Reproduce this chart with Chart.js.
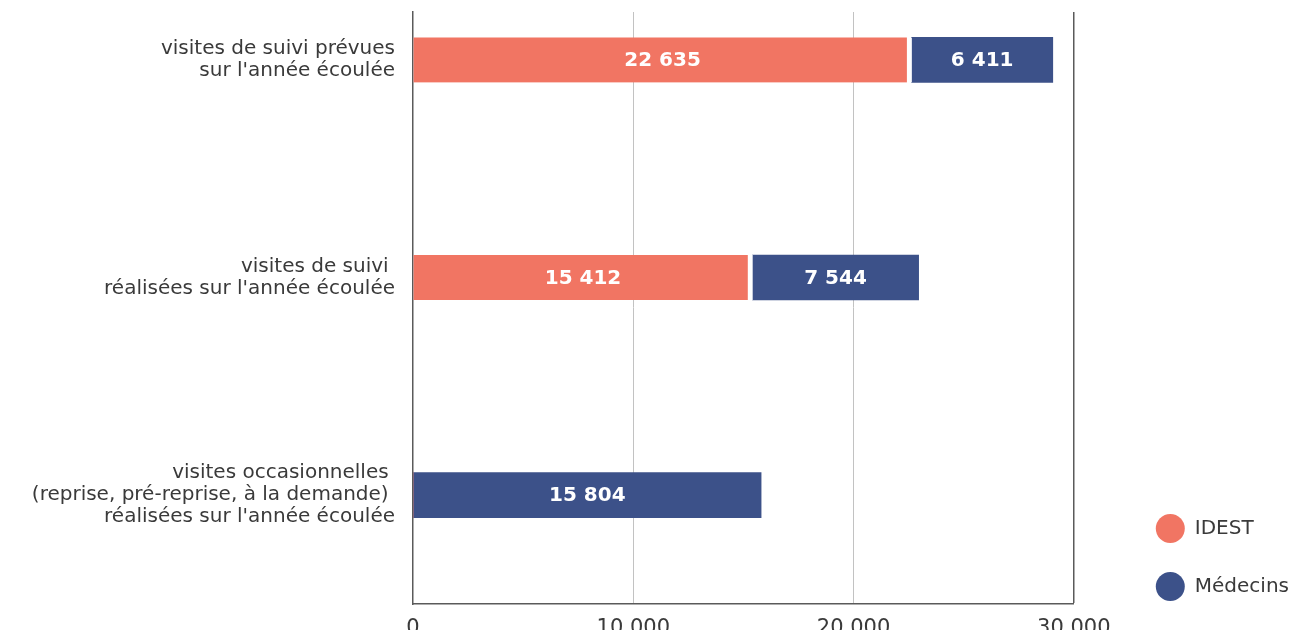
<!DOCTYPE html>
<html lang="fr">
<head>
<meta charset="utf-8">
<title>Visites de suivi</title>
<script src="https://cdn.jsdelivr.net/npm/chart.js@4"></script>
<style>
  html, body { margin: 0; padding: 0; background: #fff; }
  #wrap { position: relative; width: 1306px; height: 639px; }
</style>
</head>
<body>
<div id="wrap"><canvas id="Chart"></canvas></div>
<script>
// categories (one array per line of the axis label)
const categories = [
    ["visites de suivi prévues", "sur l'année écoulée"],
    ["visites de suivi ", "réalisées sur l'année écoulée"],
    ["visites occasionnelles ", "(reprise, pré-reprise, à la demande) ", "réalisées sur l'année écoulée"]
];
const idest = [22635, 15412, 0];
const medecins = [6411, 7544, 15804];
const xTicks = [0, 10000, 20000, 30000];

const FONT = '"DejaVu Sans", sans-serif';
const TEXT = '#3a3a3a';
const AXIS = '#5a5a5a';

// 10000 -> "10 000"
function fmt(v) {
    return String(v).replace(/\B(?=(\d{3})+(?!\d))/g, ' ');
}

// white numbers inside each bar segment
const barLabels = {
    id: 'barLabels',
    afterDatasetsDraw(chart) {
        const ctx = chart.ctx;
        ctx.save();
        ctx.font = 'bold 20px ' + FONT;
        ctx.fillStyle = '#fff';
        ctx.textAlign = 'center';
        ctx.textBaseline = 'middle';
        chart.data.datasets.forEach((ds, i) => {
            chart.getDatasetMeta(i).data.forEach((bar, j) => {
                const v = ds.data[j].x;
                if (!v) return;
                const p = bar.getCenterPoint();
                ctx.fillText(fmt(v), p.x, p.y + 1);
            });
        });
        ctx.restore();
    }
};

var ctx = document.getElementById("Chart").getContext('2d');
var myChart = new Chart(ctx, {
    type: 'bar',
    data: {
        datasets: [{
            label: 'IDEST',
            data: categories.map((c, i) => ({x: idest[i], y: i})),
            backgroundColor: '#f17563',
            borderColor: '#ffffff',
            borderWidth: {top: 0, right: 5, bottom: 0, left: 0},
            borderSkipped: false,
            barThickness: 45,
            xAxisID: 'x',
            yAxisID: 'y'
        }, {
            label: 'Médecins',
            data: categories.map((c, i) => ({x: medecins[i], y: i})),
            backgroundColor: '#3c5189',
            borderWidth: 0,
            barThickness: 45,
            xAxisID: 'x',
            yAxisID: 'y'
        }]
    },
    options: {
        indexAxis: 'y',
        responsive: true,
        maintainAspectRatio: false,
        animation: false,
        layout: { padding: {top: 12, right: 7, bottom: 9, left: 0} },
        scales: {
            x: {
                type: 'linear',
                stacked: true,
                min: 0,
                max: 30000,
                afterBuildTicks: axis => { axis.ticks = xTicks.map(v => ({value: v})); },
                afterFit: axis => { axis.height = 26; },
                grid: {
                    drawTicks: false,
                    color: c => c.tick.value === 30000 ? AXIS : (c.tick.value === 0 ? 'rgba(0,0,0,0)' : '#c2c2c2'),
                    lineWidth: c => c.tick.value === 30000 ? 1.5 : 1
                },
                border: { display: true, color: AXIS, width: 1.5 },
                ticks: {
                    padding: 12,
                    color: TEXT,
                    font: { family: FONT, size: 21 },
                    callback: v => fmt(v)
                }
            },
            y: {
                type: 'linear',
                stacked: true,
                reverse: true,
                offset: false,
                min: -0.22,
                max: 2.5,
                afterBuildTicks: axis => { axis.ticks = categories.map((c, i) => ({value: i})); },
                afterFit: axis => {
                    axis.width = 413;
                    axis.paddingTop = 0;
                    axis.paddingBottom = 0;
                },
                grid: { display: false, drawTicks: false },
                border: { display: true, color: AXIS, width: 1.5 },
                ticks: {
                    autoSkip: false,
                    padding: 18,
                    color: TEXT,
                    font: { family: FONT, size: 20, lineHeight: '22px' },
                    callback: v => categories[v]
                }
            },
            // empty strip between the plot and the legend
            gap: {
                type: 'linear',
                position: 'right',
                grid: { display: false },
                border: { display: false },
                ticks: { display: false },
                afterFit: axis => { axis.width = 53; }
            }
        },
        plugins: {
            tooltip: { enabled: false },
            legend: {
                position: 'right',
                align: 'end',
                labels: {
                    color: TEXT,
                    font: { family: FONT, size: 20 },
                    boxWidth: 29,
                    boxHeight: 29,
                    padding: 29,
                    useBorderRadius: true,
                    borderRadius: 14.5,
                    generateLabels: chart => Chart.defaults.plugins.legend.labels.generateLabels(chart)
                        .map(item => Object.assign(item, {lineWidth: 0}))
                }
            }
        }
    },
    plugins: [barLabels]
});
</script>
</body>
</html>
